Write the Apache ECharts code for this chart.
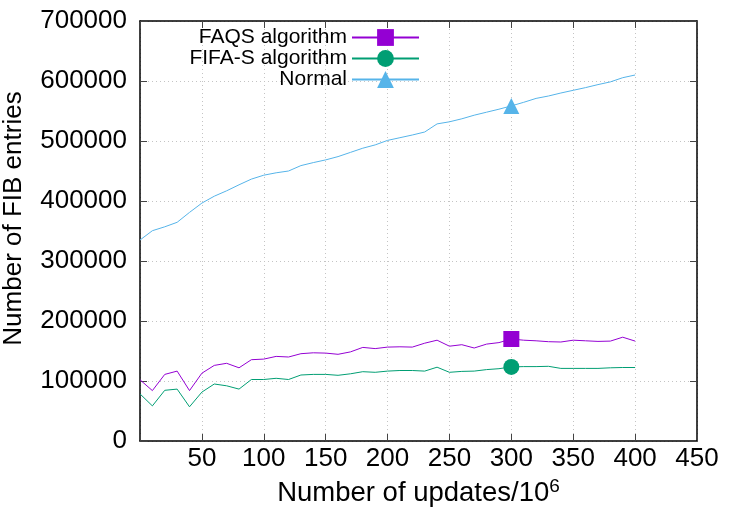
<!DOCTYPE html>
<html>
<head>
<meta charset="utf-8">
<script src="https://cdn.jsdelivr.net/npm/echarts@6/dist/echarts.min.js"></script>
<style>
html,body{margin:0;padding:0;background:#fff;}
#chart{width:750px;height:525px;}
</style>
</head>
<body>
<div id="chart"></div>
<script>
// Data
var updates = [0,10,20,30,40,50,60,70,80,90,100,110,120,130,140,150,160,170,180,190,200,210,220,230,240,250,260,270,280,290,300,310,320,330,340,350,360,370,380,390,400];
var faqs = [102000,84000,111000,116500,84000,113000,126000,129500,122000,135500,136500,141000,140000,145500,147000,146500,144500,148500,156000,154000,156500,157000,156500,163000,168000,158000,160500,155000,161500,164000,170000,168000,167000,165500,165000,168000,167000,166000,166500,173000,166500];
var fifas = [78500,58500,84500,86500,57000,81500,95000,92000,86500,102500,102500,104500,102500,110000,111000,111000,109500,112000,115500,114500,116500,117500,117500,116500,123000,114500,116000,116500,119000,120500,123500,124000,124000,124500,121000,121000,121000,121000,122000,122500,122500];
var normal = [335000,350500,357000,364500,381000,396500,408000,417000,427000,436500,443000,447000,450000,459000,464000,468500,474000,481000,488000,493500,501000,505500,510000,515000,528500,532000,537000,543000,548000,553000,558500,564500,571000,575000,580000,584500,589000,594000,598500,605500,610000];
var seriesNames = ['FAQS algorithm', 'FIFA-S algorithm', 'Normal'];
var seriesColors = ['#9400d3', '#009e73', '#56b4e9'];
var xTicks = [50,100,150,200,250,300,350,400,450];
var markerAt = 300;

function build(vals) {
  return updates.map(function (x, i) {
    if (x === markerAt) return {value: [x, vals[i]]};
    return {value: [x, vals[i]], symbol: 'none'};
  });
}

var chart = echarts.init(document.getElementById('chart'), null, {renderer: 'canvas'});
var font = 'Liberation Sans, Arial, sans-serif';
var gridLine = {show: true, lineStyle: {color: '#c4c4c4', type: [1, 3], width: 1}};
var axLine = {show: true, onZero: false, lineStyle: {color: '#000', width: 1.5}};
var tick = {show: true, inside: true, length: 7, lineStyle: {color: '#444', width: 1}};

function mk(name, vals, color, symbol) {
  return {
    name: name, type: 'line', data: build(vals),
    symbol: symbol, symbolSize: 16, showSymbol: true, showAllSymbol: true,
    lineStyle: {color: color, width: 1}, itemStyle: {color: color},
    emphasis: {disabled: true}, z: 3
  };
}

chart.setOption({
  animation: false,
  textStyle: {fontFamily: font},
  grid: {left: 140, right: 53, top: 21, bottom: 84, containLabel: false, outerBoundsMode: 'none'},
  legend: {
    orient: 'vertical', align: 'right', right: 325, top: 22,
    itemWidth: 67, itemHeight: 21, itemGap: 0,
    textStyle: {fontSize: 21, color: '#000', fontFamily: font},
    data: seriesNames
  },
  xAxis: [{
    type: 'value', min: 0, max: 450, interval: 50,
    axisLine: axLine, axisTick: tick, splitLine: gridLine,
    axisLabel: {fontSize: 26, color: '#000', margin: 5, fontFamily: font,
      formatter: function (v) { return xTicks.indexOf(v) >= 0 ? String(v) : ''; }},
    name: '{a|Number of updates/10}{b|6}', nameLocation: 'middle', nameGap: 34,
    nameTextStyle: {rich: {
      a: {fontSize: 27.5, lineHeight: 31, verticalAlign: 'bottom', color: '#000', fontFamily: font},
      b: {fontSize: 19, lineHeight: 19, verticalAlign: 'top', color: '#000', fontFamily: font}
    }}
  }, {
    type: 'value', position: 'top', min: 0, max: 450, interval: 50,
    axisLine: axLine, axisTick: tick, splitLine: {show: false}, axisLabel: {show: false}
  }],
  yAxis: [{
    type: 'value', min: 0, max: 700000, interval: 100000,
    axisLine: axLine, axisTick: tick, splitLine: gridLine,
    axisLabel: {fontSize: 26, color: '#000', margin: 13, fontFamily: font,
      formatter: function (v) { return String(v); }},
    name: 'Number of FIB entries', nameLocation: 'middle', nameGap: 113,
    nameTextStyle: {fontSize: 26, color: '#000', fontFamily: font, padding: [0, 0, 0, 25]}
  }, {
    type: 'value', position: 'right', min: 0, max: 700000, interval: 100000,
    axisLine: axLine, axisTick: tick, splitLine: {show: false}, axisLabel: {show: false}
  }],
  series: [
    mk(seriesNames[0], faqs, seriesColors[0], 'rect'),
    mk(seriesNames[1], fifas, seriesColors[1], 'circle'),
    mk(seriesNames[2], normal, seriesColors[2], 'triangle')
  ]
});
</script>
</body>
</html>
